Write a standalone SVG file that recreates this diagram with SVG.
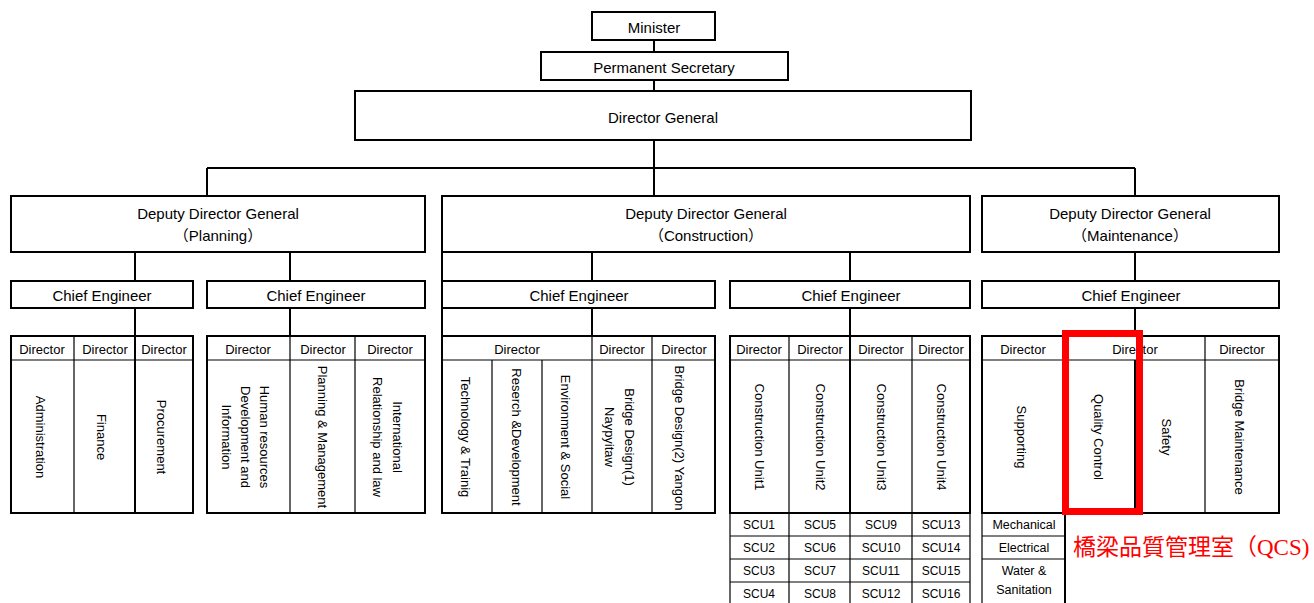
<svg xmlns="http://www.w3.org/2000/svg" width="1314" height="603" viewBox="0 0 1314 603">
<style>
.box{fill:#fff;stroke:#000;stroke-width:2}
.thin{stroke:#000;stroke-width:1.2;fill:none}
.con{stroke:#000;stroke-width:2;fill:none}
text{font-family:"Liberation Sans","Noto Sans CJK JP",sans-serif;fill:#000;text-anchor:middle;dominant-baseline:central}
.t15{font-size:15px}
.hd{font-size:13px}
.vt{font-size:13px}
.scu{font-size:12px}
.sm{font-size:12.5px}
.red{font-family:"Liberation Serif","Noto Sans CJK JP",serif;font-size:23px;fill:#f00;text-anchor:start;dominant-baseline:alphabetic}
</style>
<rect width="1314" height="603" fill="#fff"/>
<g id="connectors">
<path class="con" d="M654 40V52M654 80V91M654 140V196M207 168H1135M207 168V196M1135 168V196"/>
<path class="con" d="M135 252V281M290 252V281M442 252V336M592 252V281M850 252V281M1135 252V281"/>
<path class="con" d="M135 308V336M290 308V336M592 308V336M850 308V336M1135 308V336"/>
</g>
<g id="minister"><rect class="box" x="592" y="12" width="123" height="28"/><text class="t15" x="654" y="27">Minister</text></g>
<g id="permanent-secretary"><rect class="box" x="541" y="52" width="247" height="28"/><text class="t15" x="664" y="67">Permanent Secretary</text></g>
<g id="director-general"><rect class="box" x="355" y="91" width="616" height="49"/><text class="t15" x="663" y="117">Director General</text></g>
<g id="ddg-planning"><rect class="box" x="11" y="196" width="414" height="56"/><text class="t15" x="218" y="213">Deputy Director General</text><text class="t15" x="218" y="235">（Planning）</text></g>
<g id="ddg-construction"><rect class="box" x="442" y="196" width="528" height="56"/><text class="t15" x="706" y="213">Deputy Director General</text><text class="t15" x="706" y="235">（Construction）</text></g>
<g id="ddg-maintenance"><rect class="box" x="982" y="196" width="297" height="56"/><text class="t15" x="1130" y="213">Deputy Director General</text><text class="t15" x="1130" y="235">（Maintenance）</text></g>
<g id="ce1"><rect class="box" x="11" y="281" width="182" height="27"/><text class="t15" x="102" y="295">Chief Engineer</text></g>
<g id="ce2"><rect class="box" x="207" y="281" width="218" height="27"/><text class="t15" x="316" y="295">Chief Engineer</text></g>
<g id="ce3"><rect class="box" x="442" y="281" width="273" height="27"/><text class="t15" x="579" y="295">Chief Engineer</text></g>
<g id="ce4"><rect class="box" x="730" y="281" width="240" height="27"/><text class="t15" x="851" y="295">Chief Engineer</text></g>
<g id="ce5"><rect class="box" x="982" y="281" width="297" height="27"/><text class="t15" x="1131" y="295">Chief Engineer</text></g>

<g id="directors-planning-1">
<rect class="box" x="11" y="336" width="182" height="177"/>
<path class="thin" d="M11 360H193M74 336V513"/>
<path class="con" d="M135 336V513"/>
<text class="hd" x="42" y="349">Director</text><text class="hd" x="105" y="349">Director</text><text class="hd" x="164" y="349">Director</text>
<text class="vt" transform="translate(40,437) rotate(90)">Administration</text>
<text class="vt" transform="translate(101,437) rotate(90)">Finance</text>
<text class="vt" transform="translate(161,437) rotate(90)">Procurement</text>
</g>
<g id="directors-planning-2">
<rect class="box" x="207" y="336" width="218" height="177"/>
<path class="thin" d="M207 360H425M290 336V513M355 336V513"/>
<text class="hd" x="248" y="349">Director</text><text class="hd" x="323" y="349">Director</text><text class="hd" x="390" y="349">Director</text>
<text class="vt" transform="translate(246,437) rotate(90)"><tspan x="0" dy="-19">Human resources</tspan><tspan x="0" dy="19">Development and</tspan><tspan x="0" dy="19">Information</tspan></text>
<text class="vt" transform="translate(322,437) rotate(90)">Planning &amp; Management</text>
<text class="vt" transform="translate(388,437) rotate(90)"><tspan x="0" dy="-10">International</tspan><tspan x="0" dy="20">Relationship and law</tspan></text>
</g>
<g id="directors-construction-1">
<rect class="box" x="442" y="336" width="273" height="177"/>
<path class="thin" d="M442 360H715M492 360V513M542 360V513M592 336V513M652 336V513"/>
<text class="hd" x="517" y="349">Director</text><text class="hd" x="622" y="349">Director</text><text class="hd" x="684" y="349">Director</text>
<text class="vt" transform="translate(465,437) rotate(90)">Technology &amp; Trainig</text>
<text class="vt" transform="translate(516,437) rotate(90)">Reserch &amp;Development</text>
<text class="vt" transform="translate(565,437) rotate(90)">Environment &amp; Social</text>
<text class="vt" transform="translate(620,437) rotate(90)"><tspan x="0" dy="-10">Bridge Design(1)</tspan><tspan x="0" dy="20">Naypyitaw</tspan></text>
<text class="vt" transform="translate(679,438) rotate(90)">Bridge Design(2) Yangon</text>
</g>
<g id="directors-construction-2">
<rect class="box" x="730" y="336" width="240" height="177"/>
<path class="thin" d="M730 360H970M789 336V513M912 336V513"/>
<path class="con" d="M850 336V513"/>
<text class="hd" x="759" y="349">Director</text><text class="hd" x="820" y="349">Director</text><text class="hd" x="881" y="349">Director</text><text class="hd" x="941" y="349">Director</text>
<text class="vt" transform="translate(759,437) rotate(90)">Construction Unit1</text>
<text class="vt" transform="translate(820,437) rotate(90)">Construction Unit2</text>
<text class="vt" transform="translate(881,437) rotate(90)">Construction Unit3</text>
<text class="vt" transform="translate(941,437) rotate(90)">Construction Unit4</text>
</g>
<g id="scu-grid">
<path class="thin" d="M730 513V605M789 513V605M850 513V605M912 513V605M970 513V605M730 536H970M730 559H970M730 582H970"/>
<text class="scu" x="759" y="525">SCU1</text><text class="scu" x="820" y="525">SCU5</text><text class="scu" x="881" y="525">SCU9</text><text class="scu" x="941" y="525">SCU13</text>
<text class="scu" x="759" y="548">SCU2</text><text class="scu" x="820" y="548">SCU6</text><text class="scu" x="881" y="548">SCU10</text><text class="scu" x="941" y="548">SCU14</text>
<text class="scu" x="759" y="571">SCU3</text><text class="scu" x="820" y="571">SCU7</text><text class="scu" x="881" y="571">SCU11</text><text class="scu" x="941" y="571">SCU15</text>
<text class="scu" x="759" y="594">SCU4</text><text class="scu" x="820" y="594">SCU8</text><text class="scu" x="881" y="594">SCU12</text><text class="scu" x="941" y="594">SCU16</text>
</g>
<g id="directors-maintenance">
<rect class="box" x="982" y="336" width="297" height="177"/>
<path class="thin" d="M982 360H1279M1065 336V513M1205 336V513"/>
<path class="con" d="M1135 360V513"/>
<text class="hd" x="1023" y="349">Director</text><text class="hd" x="1135" y="349">Director</text><text class="hd" x="1242" y="349">Director</text>
<text class="vt" transform="translate(1021,437) rotate(90)">Supporting</text>
<text class="vt" transform="translate(1098,437) rotate(90)">Quality Control</text>
<text class="vt" transform="translate(1166,437) rotate(90)">Safety</text>
<text class="vt" transform="translate(1239,437) rotate(90)">Bridge Maintenance</text>
</g>
<g id="supporting-units">
<path class="thin" d="M982 513V605M982 536H1065M982 559H1065"/>
<path class="con" d="M1065 513V605"/>
<text class="sm" x="1024" y="525">Mechanical</text>
<text class="sm" x="1024" y="548">Electrical</text>
<text class="sm" x="1024" y="571">Water &amp;</text>
<text class="sm" x="1024" y="590">Sanitation</text>
</g>
<g id="qcs-highlight">
<rect x="1065.5" y="333.5" width="74" height="178" fill="none" stroke="#f00" stroke-width="7"/>
<text class="red" x="1073" y="555">橋梁品質管理室（QCS)</text>
</g>
</svg>
